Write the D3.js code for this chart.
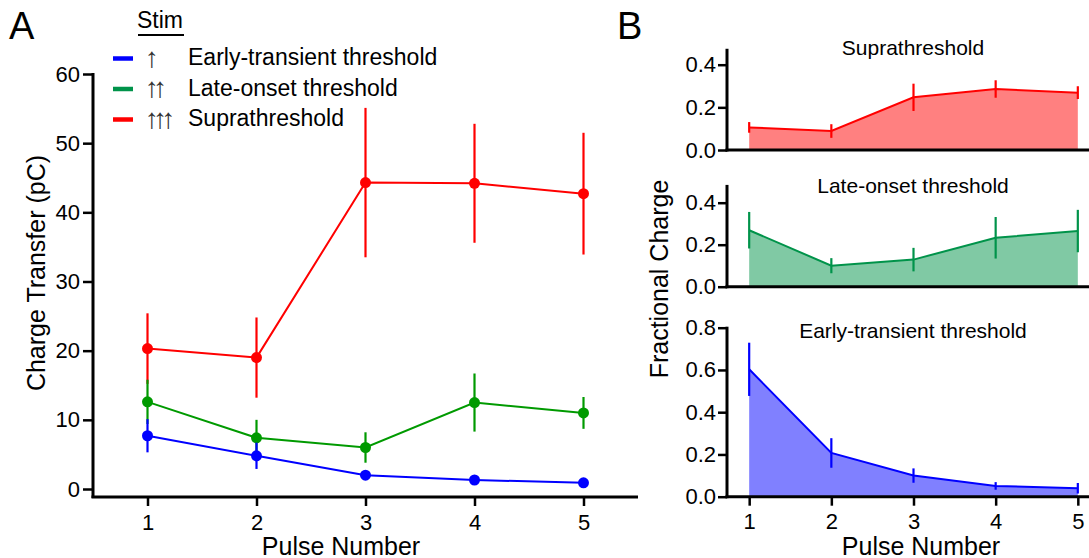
<!DOCTYPE html>
<html>
<head>
<meta charset="utf-8">
<script src="https://cdn.jsdelivr.net/npm/d3@7"></script>
<style>
  body { margin: 0; background: #fff; }
  svg { font-family: "Liberation Sans", Arial, sans-serif; }
</style>
</head>
<body>
<svg id="chart" width="1089" height="558"></svg>
<script>
// pulse numbers shared by all panels
const pulses = [1, 2, 3, 4, 5];

// panel A: charge transfer (pC), mean and error
const earlyCharge = [7.7, 4.8, 2.0, 1.3, 0.9];
const earlyChargeErr = [2.4, 1.9, 0.4, 0.3, 0.3];
const lateCharge = [12.6, 7.4, 6.0, 12.5, 11.0];
const lateChargeErr = [3.2, 2.6, 2.2, 4.2, 2.3];
const supraCharge = [20.3, 19.0, 44.3, 44.2, 42.7];
const supraChargeErr = [5.1, 5.8, 10.8, 8.6, 8.8];

// panel B: fractional charge, mean and error
const supraFrac = [0.106, 0.089, 0.247, 0.286, 0.269];
const supraFracErr = [0.025, 0.032, 0.064, 0.041, 0.030];
const lateFrac = [0.269, 0.100, 0.129, 0.233, 0.265];
const lateFracErr = [0.087, 0.036, 0.056, 0.099, 0.101];
const earlyFrac = [0.603, 0.207, 0.100, 0.051, 0.040];
const earlyFracErr = [0.126, 0.070, 0.034, 0.018, 0.025];

const legendLabels = ["Early-transient threshold", "Late-onset threshold", "Suprathreshold"];
const legendArrows = ["\u2191", "\u2191\u2191", "\u2191\u2191\u2191"];
const ticksA = [0, 10, 20, 30, 40, 50, 60];

const BLUE = "#0000ff", GREEN_A = "#009a00", GREEN = "#00934a", RED = "#ff0000";
const TICK_FONT = 22;

const svg = d3.select("#chart");

function zip(vals, errs) {
    return pulses.map((p, i) => ({ x: p, y: vals[i], e: errs[i] }));
}

function styleAxis(ax) {
    ax.select(".domain").remove();
    ax.selectAll("line").attr("stroke-width", 2.5);
    ax.selectAll("text").attr("font-size", TICK_FONT).attr("fill", "#000");
}

// ---------- panel A ----------
const xA = d3.scaleLinear().domain([0.5, 5.5]).range([93, 638]);
const yA = d3.scaleLinear().domain([0, 60]).range([489, 74]);

const gA = svg.append("g");

// spines
gA.append("line").attr("x1", 93).attr("x2", 93).attr("y1", yA(60) - 1).attr("y2", 498)
    .attr("stroke", "#000").attr("stroke-width", 3);
gA.append("line").attr("x1", 91.5).attr("x2", xA(5.5)).attr("y1", 497).attr("y2", 497)
    .attr("stroke", "#000").attr("stroke-width", 3);

styleAxis(gA.append("g").attr("transform", "translate(93,0)")
    .call(d3.axisLeft(yA).tickValues(ticksA).tickSize(10).tickPadding(3)));
styleAxis(gA.append("g").attr("transform", "translate(0,497)")
    .call(d3.axisBottom(xA).tickValues(pulses).tickFormat(d3.format("d")).tickSize(9).tickPadding(8)));

gA.append("text").attr("transform", "translate(45,273) rotate(-90)")
    .attr("text-anchor", "middle").attr("font-size", 25).text("Charge Transfer (pC)");
gA.append("text").attr("x", 341).attr("y", 555)
    .attr("text-anchor", "middle").attr("font-size", 25).text("Pulse Number");

const seriesA = [
    { data: zip(supraCharge, supraChargeErr), color: RED },
    { data: zip(lateCharge, lateChargeErr), color: GREEN_A },
    { data: zip(earlyCharge, earlyChargeErr), color: BLUE }
];
const lineA = d3.line().x(d => xA(d.x)).y(d => yA(d.y));

seriesA.forEach(s => {
    const g = gA.append("g");
    g.selectAll("line.err").data(s.data).join("line").attr("class", "err")
        .attr("x1", d => xA(d.x)).attr("x2", d => xA(d.x))
        .attr("y1", d => yA(d.y + d.e)).attr("y2", d => yA(d.y - d.e))
        .attr("stroke", s.color).attr("stroke-width", 2.2);
    g.append("path").datum(s.data).attr("d", lineA)
        .attr("fill", "none").attr("stroke", s.color).attr("stroke-width", 2);
    g.selectAll("circle").data(s.data).join("circle")
        .attr("cx", d => xA(d.x)).attr("cy", d => yA(d.y)).attr("r", 5.5)
        .attr("fill", s.color);
});

// panel letters and legend
svg.append("text").attr("x", 9).attr("y", 39).attr("font-size", 38).text("A");
svg.append("text").attr("x", 617).attr("y", 39).attr("font-size", 38).text("B");
svg.append("text").attr("x", 137).attr("y", 28).attr("font-size", 23).text("Stim");
svg.append("line").attr("x1", 138).attr("x2", 184).attr("y1", 35).attr("y2", 35)
    .attr("stroke", "#000").attr("stroke-width", 2);
const legColors = [BLUE, GREEN, RED];
legendLabels.forEach((lab, i) => {
    const y = 58.5 + i * 30.5;
    svg.append("line").attr("x1", 113).attr("x2", 133).attr("y1", y).attr("y2", y)
        .attr("stroke", legColors[i]).attr("stroke-width", 4.5);
    svg.append("text").attr("x", 145).attr("y", y + 8).attr("font-size", 28)
        .attr("fill", "#333").attr("letter-spacing", -5.7).text(legendArrows[i]);
    svg.append("text").attr("x", 188).attr("y", y + 6.5).attr("font-size", 23).text(lab);
});

// ---------- panel B ----------
const xB = d3.scaleLinear().domain([0.73, 5.13]).range([727, 1088.5]);

const panelsB = [
    { title: "Suprathreshold", data: zip(supraFrac, supraFracErr), color: RED, fill: "#ff8080",
      y0: 150, y1: 64.7, top: 0.4, max: 0.47, ticks: [0, 0.2, 0.4], xTicks: false, titleY: 55 },
    { title: "Late-onset threshold", data: zip(lateFrac, lateFracErr), color: GREEN, fill: "#80c9a4",
      y0: 286.7, y1: 202.7, top: 0.4, max: 0.48, ticks: [0, 0.2, 0.4], xTicks: false, titleY: 193 },
    { title: "Early-transient threshold", data: zip(earlyFrac, earlyFracErr), color: BLUE, fill: "#8080ff",
      y0: 496.7, y1: 327.7, top: 0.8, max: 0.8, ticks: [0, 0.2, 0.4, 0.6, 0.8], xTicks: true, titleY: 338 }
];

panelsB.forEach(p => {
    const y = d3.scaleLinear().domain([0, p.top]).range([p.y0, p.y1]);
    const g = svg.append("g");

    const area = d3.area().x(d => xB(d.x)).y0(y(0)).y1(d => y(d.y));
    g.append("path").datum(p.data).attr("d", area).attr("fill", p.fill);
    g.append("path").datum(p.data).attr("d", d3.line().x(d => xB(d.x)).y(d => y(d.y)))
        .attr("fill", "none").attr("stroke", p.color).attr("stroke-width", 2);
    g.selectAll("line.err").data(p.data).join("line").attr("class", "err")
        .attr("x1", d => xB(d.x)).attr("x2", d => xB(d.x))
        .attr("y1", d => y(d.y + d.e)).attr("y2", d => y(d.y - d.e))
        .attr("stroke", p.color).attr("stroke-width", 2.2);

    g.append("line").attr("x1", 727).attr("x2", 727).attr("y1", y(p.max) - 1).attr("y2", p.y0 + 1.5)
        .attr("stroke", "#000").attr("stroke-width", 3);
    g.append("line").attr("x1", 725.5).attr("x2", 1089).attr("y1", p.y0).attr("y2", p.y0)
        .attr("stroke", "#000").attr("stroke-width", 3);

    styleAxis(g.append("g").attr("transform", "translate(727,0)")
        .call(d3.axisLeft(y).tickValues(p.ticks).tickFormat(d3.format(".1f")).tickSize(9).tickPadding(2)));

    if (p.xTicks) {
        styleAxis(g.append("g").attr("transform", `translate(0,${p.y0})`)
            .call(d3.axisBottom(xB).tickValues(pulses).tickFormat(d3.format("d")).tickSize(9).tickPadding(8)));
    }

    g.append("text").attr("x", 913).attr("y", p.titleY)
        .attr("text-anchor", "middle").attr("font-size", 21).text(p.title);
});

svg.append("text").attr("transform", "translate(668,279) rotate(-90)")
    .attr("text-anchor", "middle").attr("font-size", 25).text("Fractional Charge");
svg.append("text").attr("x", 921).attr("y", 555)
    .attr("text-anchor", "middle").attr("font-size", 25).text("Pulse Number");
</script>
</body>
</html>
